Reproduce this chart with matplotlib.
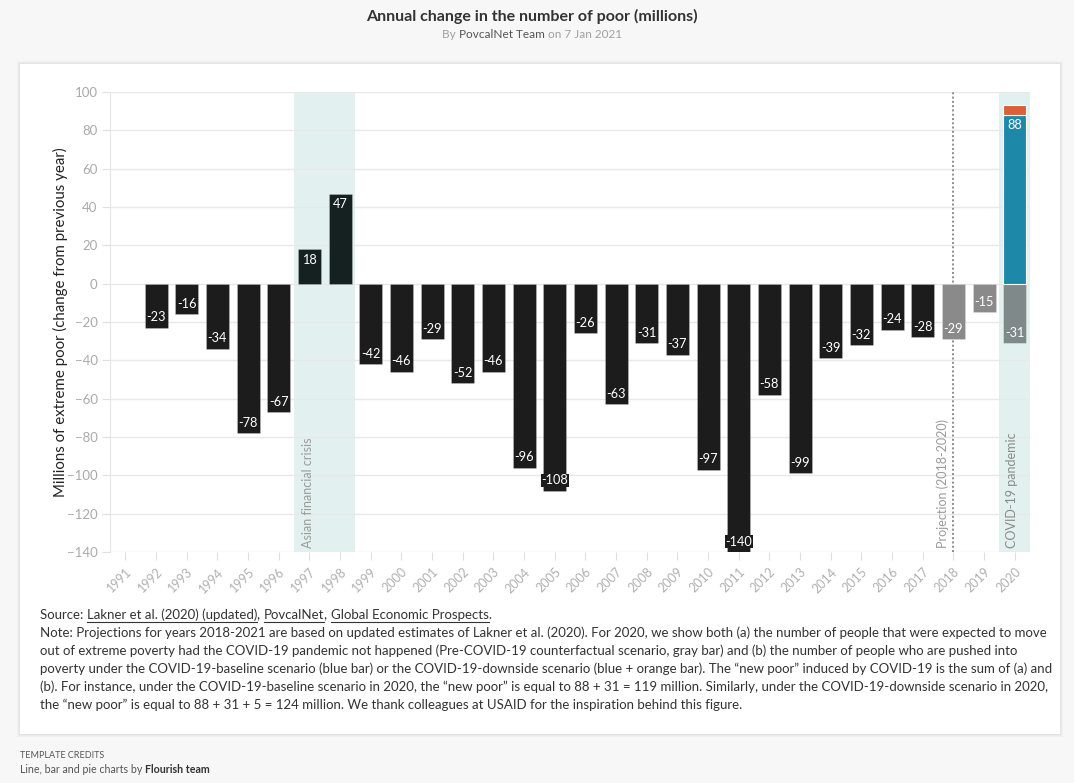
import matplotlib
matplotlib.use("Agg")
import matplotlib.pyplot as plt
from matplotlib import patches

plt.rcParams['font.family'] = ['Lato', 'DejaVu Sans']

# ---- data ----
hist_years = list(range(1992, 2018))
hist_values = [-23, -16, -34, -78, -67, 18, 47, -42, -46, -29, -52, -46, -96,
               -108, -26, -63, -31, -37, -97, -140, -58, -99, -39, -32, -24, -28]
crisis_years = [1997, 1998]
proj_years = [2018, 2019]
proj_values = [-29, -15]
covid_year = 2020
covid_counterfactual = -31
covid_baseline = 88
covid_downside_extra = 5
all_years = list(range(1991, 2021))
y_ticks = list(range(-140, 101, 20))

W, H = 1074, 783
BG = '#f7f7f7'
HIST = '#1c1c1c'
CRISIS = '#142120'
PROJ = '#8a8a8a'
CF = '#7f8989'
BLUE = '#1e88a8'
ORANGE = '#d9603b'
SHADE = '#e2f0f0'


def fx(px): return px / W
def fy(py): return 1 - py / H


fig = plt.figure(figsize=(W / 100, H / 100), dpi=100, facecolor=BG)
r = fig.canvas.get_renderer()

# card with soft shadow (kept behind the axes)
for i, a in enumerate([0.025, 0.025, 0.03]):
    d = 3 - i
    fig.patches.append(patches.Rectangle((fx(20 - d), fy(734 + d)), fx(1040 + 2 * d), (670 + 2 * d) / H,
                                         transform=fig.transFigure, facecolor='k', alpha=a,
                                         edgecolor='none', zorder=-2))
fig.patches.append(patches.Rectangle((fx(20), fy(734)), fx(1040), 670 / H,
                                     transform=fig.transFigure, facecolor='white',
                                     edgecolor='none', zorder=-1))


def wpx(s, **kw):
    t = fig.text(0, 0, s + '|', **kw)
    t2 = fig.text(0, 0, '|', **kw)
    w = t.get_window_extent(r).width - t2.get_window_extent(r).width
    t.remove(); t2.remove()
    return w


def runs(x, y, parts, center=False, **kw):
    # parts: list of (text, dict) drawn one after another on one line
    full = ''.join(p[0] for p in parts)
    if center:
        x = x - wpx(full, **kw) / 2
    pre = ''
    for s, extra in parts:
        k = dict(kw); k.update(extra)
        k.pop('gid', None)
        x0 = x + wpx(pre, **kw)
        fig.text(fx(x0), fy(y), s, va='baseline', ha='left', **k)
        if extra.get('gid') == 'u':
            w = wpx(s.rstrip('., '), **kw)
            fig.add_artist(plt.Line2D([fx(x0), fx(x0 + w)], [fy(y + 2.5)] * 2,
                                      color=k.get('color', '#333'), lw=0.8))
        pre += s


# title
fig.text(fx(532), fy(21), 'Annual change in the number of poor (millions)',
         ha='center', va='baseline', fontsize=11.5, fontweight='bold', color='#333333')
runs(532, 38, [('By ', {}), ('PovcalNet Team', {'color': '#555555'}),
               (' on 7 Jan 2021', {})], center=True, fontsize=8.5, color='#a0a0a0')

# axes
ax = fig.add_axes([fx(110), fy(552), fx(920), 460 / H])
ax.set_facecolor('none')
ax.set_xlim(1990.5, 2020.5)
ax.set_ylim(-140, 100)
ax.set_yticks(y_ticks)
ax.set_xticks(all_years)
ax.set_xticklabels([str(y) for y in all_years], rotation=45, ha='right', va='top',
                   rotation_mode='anchor')
ax.grid(axis='y', color='#e8e8e8', lw=1, zorder=0)
ax.set_axisbelow(True)
for s in ['top', 'right', 'bottom']:
    ax.spines[s].set_visible(False)
ax.spines['left'].set_color('#e6e6e6')
ax.tick_params(axis='y', colors='#e0e0e0', labelcolor='#aaaaaa', labelsize=9.5, length=6, pad=3)
ax.tick_params(axis='x', colors='#e0e0e0', labelcolor='#b0b0b0', labelsize=9, length=6, pad=4)

ax.axvspan(1996.5, 1998.5, color=SHADE, lw=0, zorder=0.5)
ax.axvspan(2019.5, 2020.5, color=SHADE, lw=0, zorder=0.5)
ax.axvline(2018, color='#8c8c8c', ls=(0, (1, 1.2)), lw=1.4, zorder=1)

bw = 0.75
colors = [CRISIS if y in crisis_years else HIST for y in hist_years]
bars_hist = ax.bar(hist_years, hist_values, width=bw, color=colors, edgecolor='#ffffff40', lw=0.6, zorder=2)
bars_proj = ax.bar(proj_years, proj_values, width=bw, color=PROJ, edgecolor='#ffffff40', lw=0.6, zorder=2)
bar_cf = ax.bar([covid_year], [covid_counterfactual], width=bw, color=CF, edgecolor='#ffffff60', lw=0.6, zorder=2)
bar_base = ax.bar([covid_year], [covid_baseline], width=bw, color=BLUE, edgecolor='white', lw=0.8, zorder=2)
ax.bar([covid_year], [covid_downside_extra], bottom=[covid_baseline], width=bw, color=ORANGE,
       edgecolor='white', lw=0.8, zorder=2)


def label(bars, fc):
    for b, c in zip(bars, fc):
        val = b.get_height()
        x = b.get_x() + b.get_width() / 2
        top = b.get_y() + val
        ax.annotate(f'{val:.0f}', (x, top), xytext=(0, -7.5 if val > 0 else 7.5),
                    textcoords='offset points', ha='center', va='center', color='white',
                    fontsize=9.2, zorder=3,
                    bbox=dict(boxstyle='square,pad=0.05', fc=c, ec='none'))


label(bars_hist, colors)
label(bars_proj, [PROJ] * len(bars_proj))
label(bar_cf, [CF])
label(bar_base, [BLUE])

ax.text(1996.96, -138, 'Asian financial crisis', rotation=90, ha='center', va='bottom',
        color='#9a9a9a', fontsize=9, zorder=3)
ax.text(2017.66, -138, 'Projection (2018-2020)', rotation=90, ha='center', va='bottom',
        color='#9a9a9a', fontsize=9, zorder=3)
ax.text(2019.9, -138, 'COVID-19 pandemic', rotation=90, ha='center', va='bottom',
        color='#8a8a8a', fontsize=9, zorder=3)

fig.text(fx(60), fy(322), 'Millions of extreme poor (change from previous year)', rotation=90,
         ha='center', va='center', fontsize=10.8, color='#222222')

# footnote
fs = dict(fontsize=9.5, color='#333333')
runs(40, 619, [('Source: ', {}), ('Lakner et al. (2020) (updated)', {'gid': 'u'}), (', ', {}),
               ('PovcalNet', {'gid': 'u'}), (', ', {}), ('Global Economic Prospects.', {'gid': 'u'})], **fs)
note = [
    'Note: Projections for years 2018-2021 are based on updated estimates of Lakner et al. (2020). For 2020, we show both (a) the number of people that were expected to move',
    'out of extreme poverty had the COVID-19 pandemic not happened (Pre-COVID-19 counterfactual scenario, gray bar) and (b) the number of people who are pushed into',
    'poverty under the COVID-19-baseline scenario (blue bar) or the COVID-19-downside scenario (blue + orange bar). The \u201cnew poor\u201d induced by COVID-19 is the sum of (a) and',
    '(b). For instance, under the COVID-19-baseline scenario in 2020, the \u201cnew poor\u201d is equal to 88 + 31 = 119 million. Similarly, under the COVID-19-downside scenario in 2020,',
    'the \u201cnew poor\u201d is equal to 88 + 31 + 5 = 124 million. We thank colleagues at USAID for the inspiration behind this figure.',
]
for i, line in enumerate(note):
    fig.text(fx(40), fy(637 + 18 * i), line, ha='left', va='baseline', **fs)

fig.text(fx(20), fy(758), 'TEMPLATE CREDITS', ha='left', va='baseline', fontsize=6.5, color='#555555')
runs(20, 773, [('Line, bar and pie charts by ', {}), ('Flourish team', {'fontweight': 'bold', 'color': '#333333'})],
     fontsize=7.7, color='#555555')

fig.savefig('out.png', dpi=100, facecolor=BG)
